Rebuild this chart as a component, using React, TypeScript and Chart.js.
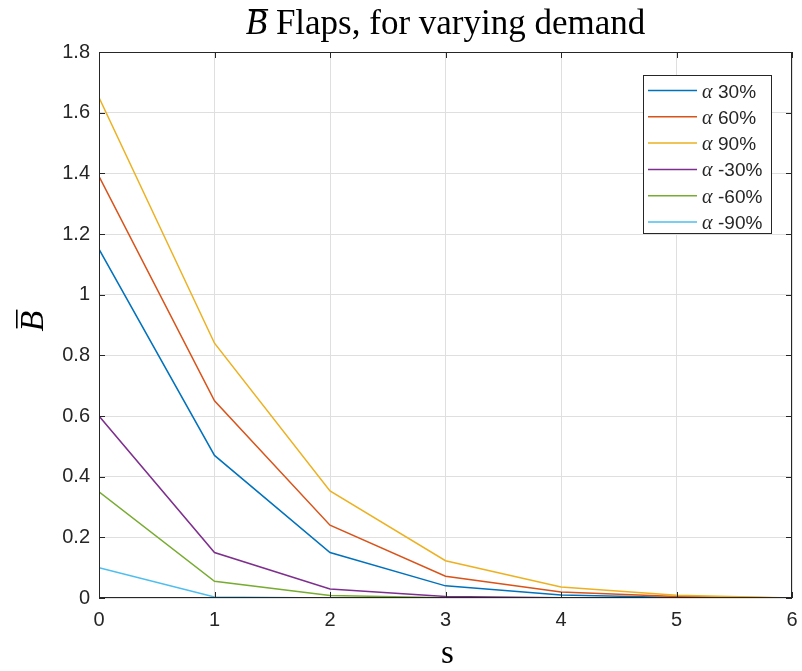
import React, { useEffect, useRef } from "react";
import { Chart, registerables } from "chart.js";

Chart.register(...registerables);

const sValues = [0, 1, 2, 3, 4, 5, 6];
const alpha30 = [1.15, 0.47, 0.15, 0.04, 0.01, 0.002, 0];
const alpha60 = [1.39, 0.65, 0.24, 0.072, 0.02, 0.005, 0];
const alpha90 = [1.65, 0.84, 0.353, 0.123, 0.036, 0.009, 0];
const alphaM30 = [0.6, 0.15, 0.03, 0.005, 0.001, 0, 0];
const alphaM60 = [0.35, 0.055, 0.008, 0.001, 0, 0, 0];
const alphaM90 = [0.1, 0.003, 0, 0, 0, 0, 0];

const seriesLabels = ["30%", "60%", "90%", "-30%", "-60%", "-90%"];
const seriesColors = ["#0072BD", "#D95319", "#EDB120", "#7E2F8E", "#77AC30", "#4DBEEE"];
const seriesValues = [alpha30, alpha60, alpha90, alphaM30, alphaM60, alphaM90];

const xTicks = [0, 1, 2, 3, 4, 5, 6];
const yTicks = [0, 0.2, 0.4, 0.6, 0.8, 1, 1.2, 1.4, 1.6, 1.8];

const AXIS = "#262626";
const SANS = '"Liberation Sans", Arial, sans-serif';
const SERIF = '"Liberation Serif", "Times New Roman", serif';

const decorPlugin = {
  id: "decor",
  afterDatasetsDraw(chart: any) {
    const { ctx, chartArea } = chart;
    const { left, right, top, bottom } = chartArea;
    const xs = chart.scales.x;
    const ys = chart.scales.y;
    ctx.save();
    // box
    ctx.strokeStyle = AXIS;
    ctx.lineWidth = 1;
    ctx.strokeRect(left + 0.5, top + 0.5, right - left - 1, bottom - top - 1);
    // inward ticks on all sides
    const tl = 6;
    ctx.beginPath();
    xTicks.forEach((v) => {
      const px = Math.round(xs.getPixelForValue(v)) + 0.5;
      ctx.moveTo(px, bottom);
      ctx.lineTo(px, bottom - tl);
      ctx.moveTo(px, top);
      ctx.lineTo(px, top + tl);
    });
    yTicks.forEach((v) => {
      const py = Math.round(ys.getPixelForValue(v)) + 0.5;
      ctx.moveTo(left, py);
      ctx.lineTo(left + tl, py);
      ctx.moveTo(right, py);
      ctx.lineTo(right - tl, py);
    });
    ctx.stroke();

    // legend
    const lx = 643, ly = 75, lw = 128, lh = 158;
    ctx.fillStyle = "#ffffff";
    ctx.fillRect(lx, ly, lw, lh);
    ctx.strokeStyle = AXIS;
    ctx.lineWidth = 1;
    ctx.strokeRect(lx + 0.5, ly + 0.5, lw, lh);
    seriesLabels.forEach((lab, i) => {
      const y = 90.5 + i * 26.3;
      ctx.strokeStyle = seriesColors[i];
      ctx.lineWidth = 1.5;
      ctx.beginPath();
      ctx.moveTo(648, y);
      ctx.lineTo(697, y);
      ctx.stroke();
      ctx.fillStyle = AXIS;
      ctx.textBaseline = "alphabetic";
      ctx.textAlign = "left";
      ctx.font = `italic 20px ${SERIF}`;
      ctx.fillText("α", 702, y + 7);
      ctx.font = `19px ${SANS}`;
      ctx.fillText(lab, 718, y + 7);
    });

    // title
    const cx = (left + right) / 2;
    ctx.fillStyle = "#000000";
    ctx.font = `italic 35px ${SERIF}`;
    const bw = ctx.measureText("B").width;
    ctx.font = `35px ${SERIF}`;
    const rest = " Flaps, for varying demand";
    const rw = ctx.measureText(rest).width;
    const total = bw + rw;
    const tx = cx - total / 2;
    const tb = 34;
    ctx.font = `italic 35px ${SERIF}`;
    ctx.fillText("B", tx, tb);
    ctx.fillRect(tx + 3, 9, bw - 2, 1.6);
    ctx.font = `35px ${SERIF}`;
    ctx.fillText(rest, tx + bw, tb);

    // x label
    ctx.textAlign = "center";
    ctx.font = `33px ${SERIF}`;
    ctx.fillText("s", cx + 2, 663);

    // y label
    ctx.save();
    ctx.translate(43, (top + bottom) / 2 - 4);
    ctx.rotate(-Math.PI / 2);
    ctx.font = `italic 34px ${SERIF}`;
    ctx.textAlign = "center";
    ctx.fillText("B", 0, 0);
    const yb = ctx.measureText("B").width;
    ctx.fillRect(-yb / 2 + 3, -27, yb - 2, 1.6);
    ctx.restore();

    ctx.restore();
  },
};

export default function App() {
  const ref = useRef<HTMLCanvasElement | null>(null);
  useEffect(() => {
    document.body.style.margin = "0";
    const canvas = ref.current;
    if (!canvas) return;
    const n = seriesValues.length;
    const chart = new Chart(canvas, {
      type: "line",
      data: {
        datasets: seriesValues.map((vals, i) => ({
          label: "α " + seriesLabels[i],
          data: sValues.map((s, j) => ({ x: s, y: vals[j] })),
          borderColor: seriesColors[i],
          backgroundColor: seriesColors[i],
          borderWidth: 1.5,
          pointRadius: 0,
          tension: 0,
          fill: false,
          order: n - i,
        })),
      },
      options: {
        responsive: false,
        animation: false,
        layout: { padding: { top: 52, right: 10, left: 0, bottom: 0 } },
        plugins: {
          legend: { display: false },
          title: { display: false },
          tooltip: { enabled: false },
        },
        scales: {
          x: {
            type: "linear",
            min: 0,
            max: 6,
            afterFit: (s: any) => {
              s.height = 73;
              s.paddingLeft = 0;
              s.paddingRight = 0;
            },
            afterBuildTicks: (s: any) => {
              s.ticks = xTicks.map((v) => ({ value: v }));
            },
            ticks: {
              font: { family: SANS, size: 20 },
              color: AXIS,
              padding: 10,
              callback: (v: any) => String(v),
            },
            grid: { color: "#dfdfdf", drawTicks: false, tickLength: 0 },
            border: { display: false },
          },
          y: {
            type: "linear",
            min: 0,
            max: 1.8,
            afterFit: (s: any) => {
              s.width = 99;
              s.paddingTop = 0;
              s.paddingBottom = 0;
            },
            afterBuildTicks: (s: any) => {
              s.ticks = yTicks.map((v) => ({ value: v }));
            },
            ticks: {
              font: { family: SANS, size: 20 },
              color: AXIS,
              padding: 9,
              callback: (v: any) => String(Math.round(Number(v) * 10) / 10),
            },
            grid: { color: "#dfdfdf", drawTicks: false, tickLength: 0 },
            border: { display: false },
          },
        },
      },
      plugins: [decorPlugin],
    } as any);
    return () => chart.destroy();
  }, []);
  return (
    <div style={{ width: 802, height: 671 }}>
      <canvas ref={ref} width={802} height={671} style={{ display: "block" }} />
    </div>
  );
}
